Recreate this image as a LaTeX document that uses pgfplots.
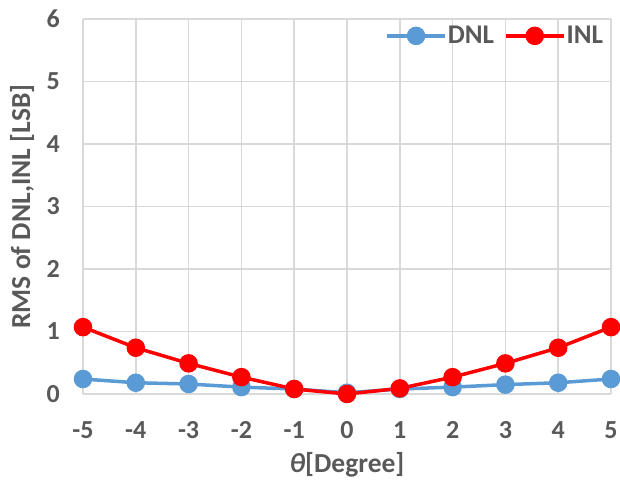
\documentclass[border=0pt]{standalone}
\usepackage{pgfplots}
\pgfplotsset{compat=1.18}
\usepackage{fontspec}
\setmainfont{Carlito}
\definecolor{dnl}{HTML}{5B9BD5}
\definecolor{inl}{HTML}{FF0000}
\definecolor{txt}{HTML}{595959}
\definecolor{grd}{HTML}{D9D9D9}
\begin{document}
\begin{tikzpicture}
\begin{axis}[
  scale only axis,
  width=528pt, height=375pt,
  xmin=-5, xmax=5, ymin=0, ymax=6,
  xtick={-5,...,5}, ytick={0,...,6},
  grid=major,
  major grid style={grd, line width=1.5pt},
  axis line style={grd, line width=1.5pt},
  axis x line*=bottom, axis y line*=left,
  tick style={draw=none},
  /pgf/number format/assume math mode=true,
  ticklabel style={font=\fontsize{26}{28}\selectfont\bfseries, text=txt, inner sep=0pt},
  xticklabel style={anchor=center, yshift=-36pt},
  yticklabel style={anchor=east, xshift=-23pt},
  xlabel={\textit{θ}[Degree]},
  ylabel={RMS of DNL,INL [LSB]},
  label style={font=\fontsize{27.5}{30}\selectfont\bfseries, text=txt, inner sep=0pt},
  xlabel style={at={(axis description cs:0.5,-0.189)}, anchor=center},
  ylabel style={at={(axis description cs:-0.1155,0.5)}, anchor=center},
  legend style={at={(axis description cs:0.987,0.955)}, anchor=east, draw=none, fill=none,
    font=\fontsize{27}{29}\selectfont\bfseries, text=txt, legend columns=2,
    inner sep=0pt, nodes={inner sep=1pt},
    /tikz/every even column/.append style={column sep=9pt}},
  legend cell align=left,
  legend image code/.code={\draw[#1, mark repeat=2, mark phase=2] plot coordinates {(0pt,0pt) (29pt,0pt) (58pt,0pt)};},
  clip=false,
]
\addplot[dnl, line width=3.5pt, mark=*, mark size=7.5pt, mark options={solid}] coordinates {
(-5,0.24) (-4,0.18) (-3,0.16) (-2,0.11) (-1,0.08) (0,0.02) (1,0.08) (2,0.11) (3,0.15) (4,0.18) (5,0.24)};
\addlegendentry{DNL}
\addplot[inl, line width=3.5pt, mark=*, mark size=7.5pt, mark options={solid}] coordinates {
(-5,1.07) (-4,0.74) (-3,0.49) (-2,0.27) (-1,0.08) (0,0.0) (1,0.09) (2,0.27) (3,0.49) (4,0.74) (5,1.07)};
\addlegendentry{INL}
\coordinate (bl) at (rel axis cs:0,0);
\coordinate (tr) at (rel axis cs:1,1);
\end{axis}
\pgfresetboundingbox
\path[use as bounding box] ([shift={(-83pt,-87pt)}]bl) rectangle ([shift={(9pt,19pt)}]tr);
\end{tikzpicture}
\end{document}
